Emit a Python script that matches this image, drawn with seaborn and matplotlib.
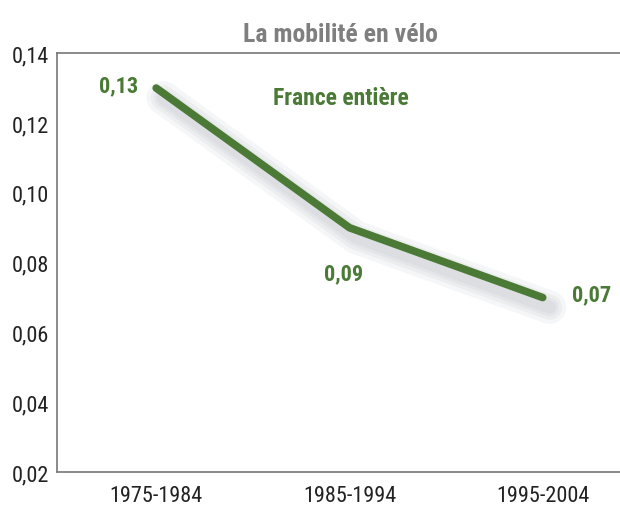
import seaborn as sns
import pandas as pd
import matplotlib.pyplot as plt
import matplotlib.patheffects as pe
from matplotlib.ticker import FuncFormatter

periods = ["1975-1984", "1985-1994", "1995-2004"]
mobility = [0.13, 0.09, 0.07]
label_offsets = [(-27, 2), (-4, -33), (35, 2)]

sns.set_style("white")
plt.rcParams['font.family'] = ['Roboto Condensed', 'Liberation Sans Narrow', 'Liberation Sans', 'DejaVu Sans']

green = "#4a7a35"
df = pd.DataFrame({"period": periods, "mobility": mobility})

fig, ax = plt.subplots(figsize=(6.2, 5.06), dpi=100)
fig.subplots_adjust(left=0.092, right=1.0, top=0.893, bottom=0.065)

# soft blurred shadow made from a few wide, faint strokes
shadow = [pe.SimpleLineShadow(offset=(5, -7), shadow_color="#7d8290", alpha=0.07, linewidth=w)
          for w in (24, 18, 13, 9)]
sns.lineplot(data=df, x="period", y="mobility", ax=ax, color=green, linewidth=5.5,
             sort=False, path_effects=shadow + [pe.Normal()])

for i, (v, off) in enumerate(zip(mobility, label_offsets)):
    ax.annotate(f"{v:.2f}".replace(".", ","), (i, v), xytext=off, textcoords="offset points",
                ha="center", va="center", color=green, fontsize=16, fontweight="bold")

ax.text(0.504, 0.895, "France entière", transform=ax.transAxes, ha="center", va="center",
        color=green, fontsize=17, fontweight="bold")

ax.set_ylim(0.02, 0.14)
ax.set_xlim(-0.513, 2.40)
ax.set_yticks([0.02, 0.04, 0.06, 0.08, 0.10, 0.12, 0.14])
ax.yaxis.set_major_formatter(FuncFormatter(lambda y, _: f"{y:.2f}".replace(".", ",")))
ax.tick_params(axis="both", length=0, labelsize=16, colors="#222222")
ax.tick_params(axis="x", pad=9)
ax.tick_params(axis="y", pad=6)
ax.set_xlabel("")
ax.set_ylabel("")
ax.set_title("La mobilité en vélo", color="#7f7f7f", fontsize=18.5, fontweight="bold", pad=9, x=0.504)

for side in ["left", "bottom", "top"]:
    ax.spines[side].set_color("#777777")
    ax.spines[side].set_linewidth(1.2)
ax.spines["right"].set_visible(False)

plt.savefig("out.png", dpi=100)
